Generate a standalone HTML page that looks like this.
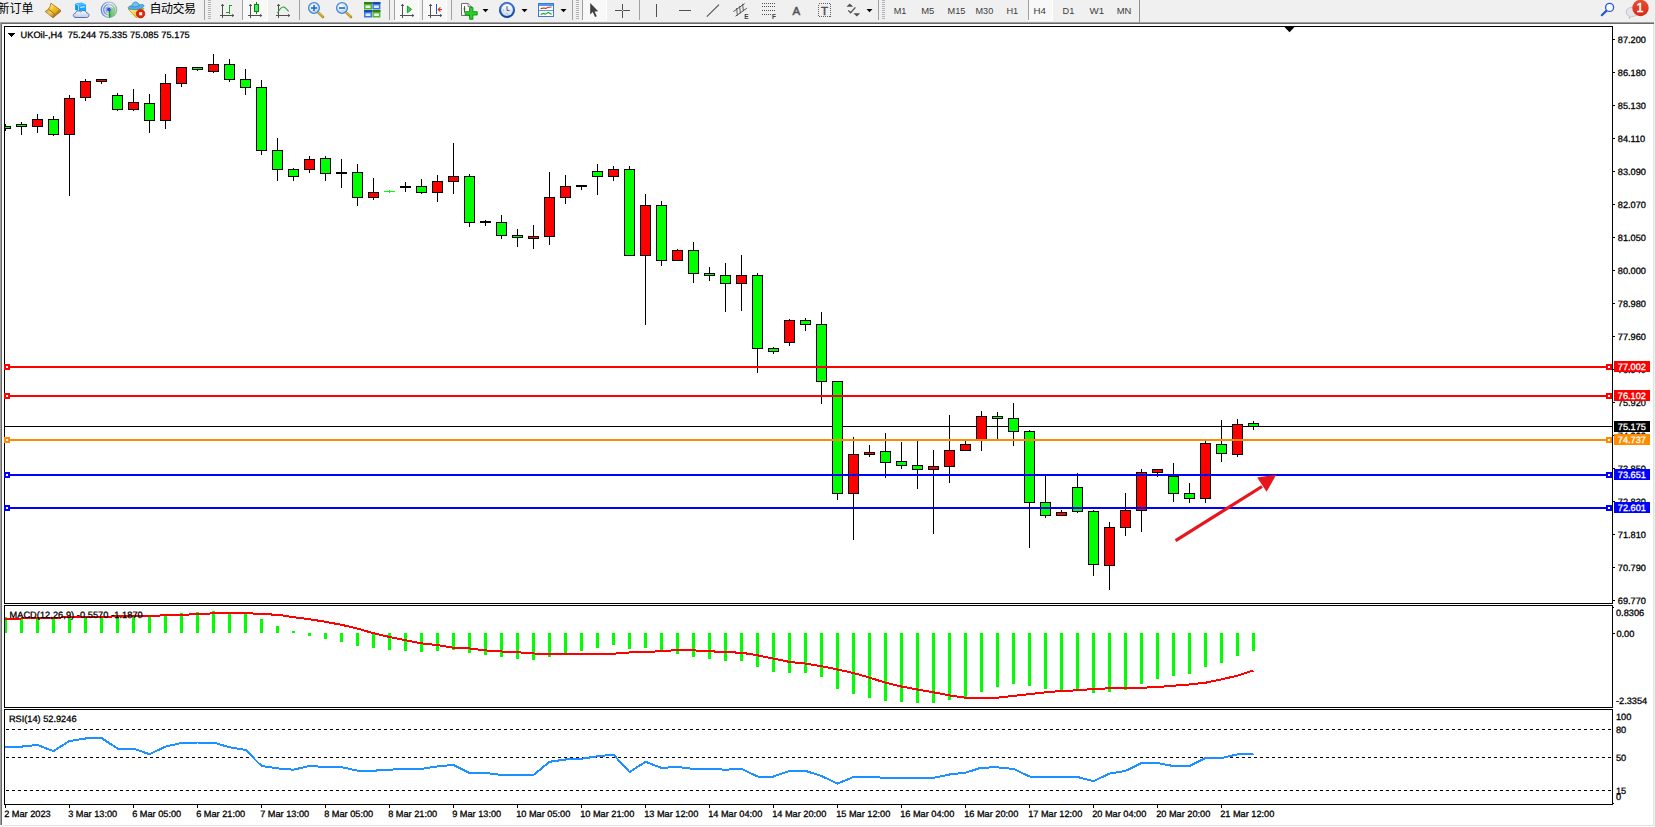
<!DOCTYPE html>
<html lang="zh-CN">
<head>
<meta charset="utf-8">
<title>UKOil-,H4</title>
<style>
html,body{margin:0;padding:0;background:#fff;}
body{width:1655px;height:827px;overflow:hidden;position:relative;font-family:"Liberation Sans","Noto Sans CJK SC",sans-serif;}
#tb{position:absolute;left:0;top:0;width:1655px;height:22px;background:#f0f0f0;}
</style>
</head>
<body>
<div id="tb"><svg width="1655" height="22" viewBox="0 0 1655 22" style="position:absolute;left:0;top:0" font-family="'Liberation Sans','Noto Sans CJK SC',sans-serif">
<defs>
<linearGradient id="gGold" x1="0" y1="0" x2="1" y2="1"><stop offset="0" stop-color="#fff8b0"/><stop offset="0.5" stop-color="#f0c020"/><stop offset="1" stop-color="#d09410"/></linearGradient>
<linearGradient id="gBlue" x1="0" y1="0" x2="0" y2="1"><stop offset="0" stop-color="#58c0ff"/><stop offset="1" stop-color="#0a78e0"/></linearGradient>
<linearGradient id="gCloud" x1="0" y1="0" x2="0" y2="1"><stop offset="0" stop-color="#ffffff"/><stop offset="1" stop-color="#b8c8e8"/></linearGradient>
<radialGradient id="gLens" cx="0.4" cy="0.35" r="0.7"><stop offset="0" stop-color="#ffffff"/><stop offset="1" stop-color="#a8d0f8"/></radialGradient>
<radialGradient id="gClock" cx="0.5" cy="0.5" r="0.5"><stop offset="0.6" stop-color="#ffffff"/><stop offset="0.75" stop-color="#3080e0"/><stop offset="1" stop-color="#1050b0"/></radialGradient>
<linearGradient id="gRed" x1="0" y1="0" x2="0" y2="1"><stop offset="0" stop-color="#e85030"/><stop offset="1" stop-color="#d82818"/></linearGradient>
<linearGradient id="gGreen" x1="0" y1="0" x2="0" y2="1"><stop offset="0" stop-color="#40e040"/><stop offset="1" stop-color="#10a010"/></linearGradient>
<linearGradient id="gYel" x1="0" y1="0" x2="1" y2="1"><stop offset="0" stop-color="#fff8a0"/><stop offset="1" stop-color="#e0a800"/></linearGradient>
<pattern id="grip" x="0" y="0" width="4" height="2" patternUnits="userSpaceOnUse"><rect x="0" y="0" width="4" height="1" fill="#b4b4b4"/></pattern>
<linearGradient id="gFace" x1="0" y1="0" x2="0" y2="1"><stop offset="0" stop-color="#ffffff"/><stop offset="1" stop-color="#c8dcf4"/></linearGradient>
<linearGradient id="gRing" x1="0" y1="0" x2="0" y2="1"><stop offset="0" stop-color="#4890f0"/><stop offset="1" stop-color="#1040a0"/></linearGradient>
<linearGradient id="gSpine" x1="0" y1="0" x2="1" y2="1"><stop offset="0" stop-color="#c89020"/><stop offset="0.45" stop-color="#f4d060"/><stop offset="1" stop-color="#a86408"/></linearGradient>
<linearGradient id="gRingSig" x1="0" y1="0" x2="1" y2="0"><stop offset="0" stop-color="#3060d8"/><stop offset="0.55" stop-color="#a0b8e0"/><stop offset="1" stop-color="#70a890"/></linearGradient>
<linearGradient id="gSweep" x1="0" y1="1" x2="1" y2="0"><stop offset="0" stop-color="#30b030" stop-opacity="0.95"/><stop offset="1" stop-color="#a0d8a0" stop-opacity="0.35"/></linearGradient>
</defs>
<rect x="243" y="0" width="25" height="20" fill="#f8f8f8" shape-rendering="crispEdges"/><rect x="267" y="0" width="1" height="21" fill="#ffffff" shape-rendering="crispEdges"/><rect x="242" y="20" width="26" height="1" fill="#ffffff" shape-rendering="crispEdges"/>
<rect x="395" y="0" width="24" height="20" fill="#f8f8f8" shape-rendering="crispEdges"/><rect x="418" y="0" width="1" height="21" fill="#ffffff" shape-rendering="crispEdges"/><rect x="394" y="20" width="25" height="1" fill="#ffffff" shape-rendering="crispEdges"/>
<rect x="423" y="0" width="24" height="20" fill="#f8f8f8" shape-rendering="crispEdges"/><rect x="446" y="0" width="1" height="21" fill="#ffffff" shape-rendering="crispEdges"/><rect x="422" y="20" width="25" height="1" fill="#ffffff" shape-rendering="crispEdges"/>
<rect x="583" y="0" width="24" height="20" fill="#f8f8f8" shape-rendering="crispEdges"/><rect x="606" y="0" width="1" height="21" fill="#ffffff" shape-rendering="crispEdges"/><rect x="582" y="20" width="25" height="1" fill="#ffffff" shape-rendering="crispEdges"/>
<rect x="1029" y="0" width="24" height="20" fill="#f8f8f8" shape-rendering="crispEdges"/><rect x="1052" y="0" width="1" height="21" fill="#ffffff" shape-rendering="crispEdges"/><rect x="1028" y="20" width="25" height="1" fill="#ffffff" shape-rendering="crispEdges"/>
<text x="-2.6" y="13" font-size="12px" fill="#000">新订单</text>
<text x="149.5" y="13" font-size="12px" fill="#000" textLength="46.5" lengthAdjust="spacing">自动交易</text>
<path d="M45.2,11.5 L48.6,9 L55.2,14.4 L52.9,17.7 Z" fill="url(#gSpine)" stroke="#a06410" stroke-width="0.7" stroke-linejoin="round"/><path d="M55.2,14.4 L59.8,9.6 L61,11.2 L53,17.7 Z" fill="#c8a050" stroke="#a06410" stroke-width="0.7" stroke-linejoin="round"/><path d="M54.6,16 L60.4,10.8" stroke="#8a5a10" stroke-width="0.5"/><path d="M50.9,3.2 L59.8,9.6 L55.2,14.4 L48.6,9 C49.8,7.4 50.6,5.4 50.9,3.2 Z" fill="url(#gGold)" stroke="#a86c10" stroke-width="0.8" stroke-linejoin="round"/>
<path d="M75.1,3.3 L82.1,2.5 L86,4.6 L78.5,5.6 Z" fill="#48b8ff"/><path d="M75.1,3.3 L78.5,5.6 L78.5,11 L75.1,10 Z" fill="#0a96f0"/><path d="M78.5,5.6 L86,4.6 L86,11 L78.5,11 Z" fill="#18a4ff"/><path d="M75.1,3.3 L78.5,5.6 L78.5,11" fill="none" stroke="#e8f6ff" stroke-width="0.6"/><path d="M80.2,7.3 L84.8,6.7" stroke="#f0faff" stroke-width="1.1"/><path d="M76,17.5 C72.6,17.5 72.4,13.6 75.6,13.2 C75.8,10.8 79.2,10.2 80.6,12 C82.2,9.6 86.2,10.4 86.6,13 C89.8,13 89.8,17.5 86.6,17.5 Z" fill="url(#gCloud)" stroke="#4868a8" stroke-width="0.9"/>
<g fill="none" stroke-width="1.3"><circle cx="109" cy="9.8" r="7.7" stroke="url(#gRingSig)" opacity="0.75"/><circle cx="109" cy="9.8" r="5.3" stroke="url(#gRingSig)" opacity="0.75"/><circle cx="109" cy="9.8" r="3" stroke="url(#gRingSig)" opacity="0.6"/></g><path d="M109,9.8 L109,17.6 A7.8,7.8 0 0 0 115.8,6 Z" fill="url(#gSweep)"/><path d="M109.5,10 L109.5,17.6" stroke="#18a020" stroke-width="1.3"/><circle cx="108.9" cy="9.5" r="1.9" fill="#2458d8"/>
<path d="M128.3,9.2 L144,8.6 L136.3,17.8 Z" fill="url(#gYel)" stroke="#c89408" stroke-width="0.8" stroke-linejoin="round"/><path d="M128.2,7.6 C129.6,4.8 133,6.4 136,5.6 C139,5 143,3.4 143.9,5.4 C144.4,7.4 140,9.4 136,9.5 C132,9.6 127.6,9.4 128.2,7.6 Z" fill="#58b0e8" stroke="#2484b8" stroke-width="0.7"/><path d="M131.9,6.6 C131.6,0.8 138.8,0.6 139.2,5.6 C137,7 134,7.2 131.9,6.6 Z" fill="#74c0f0" stroke="#2484b8" stroke-width="0.7"/><circle cx="140.6" cy="13.7" r="4.2" fill="#e42408" stroke="#b41404" stroke-width="0.7"/><rect x="139.1" y="12.2" width="3.1" height="3.1" fill="#fff"/>
<rect x="204" y="0" width="1" height="20" fill="#a0a0a0" shape-rendering="crispEdges"/>
<rect x="208" y="0" width="3" height="20" fill="url(#grip)" shape-rendering="crispEdges"/>
<rect x="242" y="0" width="1" height="20" fill="#a0a0a0" shape-rendering="crispEdges"/>
<rect x="299" y="0" width="1" height="20" fill="#a0a0a0" shape-rendering="crispEdges"/>
<rect x="389" y="0" width="1" height="20" fill="#a0a0a0" shape-rendering="crispEdges"/>
<rect x="394" y="0" width="1" height="20" fill="#a0a0a0" shape-rendering="crispEdges"/>
<rect x="422" y="0" width="1" height="20" fill="#a0a0a0" shape-rendering="crispEdges"/>
<rect x="451" y="0" width="1" height="20" fill="#a0a0a0" shape-rendering="crispEdges"/>
<rect x="572" y="0" width="1" height="20" fill="#a0a0a0" shape-rendering="crispEdges"/>
<rect x="576" y="0" width="3" height="20" fill="url(#grip)" shape-rendering="crispEdges"/>
<rect x="582" y="0" width="1" height="20" fill="#a0a0a0" shape-rendering="crispEdges"/>
<rect x="639" y="0" width="1" height="20" fill="#a0a0a0" shape-rendering="crispEdges"/>
<rect x="878" y="0" width="1" height="20" fill="#a0a0a0" shape-rendering="crispEdges"/>
<rect x="882" y="0" width="3" height="20" fill="url(#grip)" shape-rendering="crispEdges"/>
<rect x="1028" y="0" width="1" height="20" fill="#a0a0a0" shape-rendering="crispEdges"/>
<rect x="1139" y="0" width="1" height="22" fill="#909090" shape-rendering="crispEdges"/>
<g fill="none" stroke="#505050" stroke-width="1" shape-rendering="crispEdges"><line x1="222.5" y1="4" x2="222.5" y2="18"/><line x1="220" y1="15.5" x2="234" y2="15.5"/></g><path d="M221.2,6 L222.5,4.3 L223.8,6 M232.2,14.2 L233.8,15.5 L232.2,16.8" fill="none" stroke="#505050" stroke-width="1"/>
<path d="M229.5,5 L229.5,13.5 M226,12.5 L229.5,12.5 M229.5,5.5 L231.5,5.5" fill="none" stroke="#18a028" stroke-width="1" shape-rendering="crispEdges"/>
<g fill="none" stroke="#505050" stroke-width="1" shape-rendering="crispEdges"><line x1="250.5" y1="4" x2="250.5" y2="18"/><line x1="248" y1="15.5" x2="262" y2="15.5"/></g><path d="M249.2,6 L250.5,4.3 L251.8,6 M260.2,14.2 L261.8,15.5 L260.2,16.8" fill="none" stroke="#505050" stroke-width="1"/>
<path d="M256.5,2 L256.5,14" stroke="#108018" stroke-width="1" shape-rendering="crispEdges"/><rect x="254.5" y="4.5" width="4" height="7" fill="#48e858" stroke="#108018" stroke-width="1" shape-rendering="crispEdges"/>
<g fill="none" stroke="#505050" stroke-width="1" shape-rendering="crispEdges"><line x1="278.5" y1="4" x2="278.5" y2="18"/><line x1="276" y1="15.5" x2="290" y2="15.5"/></g><path d="M277.2,6 L278.5,4.3 L279.8,6 M288.2,14.2 L289.8,15.5 L288.2,16.8" fill="none" stroke="#505050" stroke-width="1"/>
<path d="M277.5,13.2 C280,8 282.6,6.4 284.4,7.2 C286,8 287.4,10 288.6,11.4" fill="none" stroke="#18a028" stroke-width="1.1"/>
<path d="M317.4,11.6 L323,17" stroke="#b89020" stroke-width="2.6" stroke-linecap="round"/><path d="M317.8,11.6 L322.6,16.2" stroke="#f0d060" stroke-width="1" stroke-linecap="round"/><circle cx="314" cy="8" r="5.4" fill="url(#gLens)" stroke="#4888d0" stroke-width="1.3"/><path d="M311,8 L317,8" stroke="#2868c0" stroke-width="1.6"/><path d="M314,5 L314,11" stroke="#2868c0" stroke-width="1.6"/>
<path d="M345.4,11.6 L351,17" stroke="#b89020" stroke-width="2.6" stroke-linecap="round"/><path d="M345.8,11.6 L350.6,16.2" stroke="#f0d060" stroke-width="1" stroke-linecap="round"/><circle cx="342" cy="8" r="5.4" fill="url(#gLens)" stroke="#4888d0" stroke-width="1.3"/><path d="M339,8 L345,8" stroke="#2868c0" stroke-width="1.6"/>
<rect x="364" y="2" width="8" height="7.5" fill="#58b030"/><rect x="364" y="2" width="8" height="2" fill="#308018"/><rect x="365.5" y="5.4" width="5" height="2.6" fill="#f0f8ff" opacity="0.9"/>
<rect x="372.4" y="2" width="8" height="7.5" fill="#3878e0"/><rect x="372.4" y="2" width="8" height="2" fill="#1848b0"/><rect x="373.9" y="5.4" width="5" height="2.6" fill="#f0f8ff" opacity="0.9"/>
<rect x="364" y="10" width="8" height="7.5" fill="#3878e0"/><rect x="364" y="10" width="8" height="2" fill="#1848b0"/><rect x="365.5" y="13.4" width="5" height="2.6" fill="#f0f8ff" opacity="0.9"/>
<rect x="372.4" y="10" width="8" height="7.5" fill="#58b030"/><rect x="372.4" y="10" width="8" height="2" fill="#308018"/><rect x="373.9" y="13.4" width="5" height="2.6" fill="#f0f8ff" opacity="0.9"/>
<g fill="none" stroke="#505050" stroke-width="1" shape-rendering="crispEdges"><line x1="402.5" y1="4" x2="402.5" y2="18"/><line x1="400" y1="15.5" x2="414" y2="15.5"/></g><path d="M401.2,6 L402.5,4.3 L403.8,6 M412.2,14.2 L413.8,15.5 L412.2,16.8" fill="none" stroke="#505050" stroke-width="1"/>
<path d="M407.4,6 L411.6,9.4 L407.4,12.8 Z" fill="#38d048" stroke="#18a028" stroke-width="1"/>
<g fill="none" stroke="#505050" stroke-width="1" shape-rendering="crispEdges"><line x1="430.5" y1="4" x2="430.5" y2="18"/><line x1="428" y1="15.5" x2="442" y2="15.5"/></g><path d="M429.2,6 L430.5,4.3 L431.8,6 M440.2,14.2 L441.8,15.5 L440.2,16.8" fill="none" stroke="#505050" stroke-width="1"/>
<path d="M436.5,4 L436.5,13.5" stroke="#2060c0" stroke-width="1" shape-rendering="crispEdges"/><path d="M438,9.5 L442,9.5 M440.4,7.4 L438.2,9.5 L440.4,11.6" fill="none" stroke="#d83010" stroke-width="1.1"/>
<path d="M461.5,3.5 L468,3.5 L471.5,6.6 L471.5,15.5 L461.5,15.5 Z" fill="#fbfbfb" stroke="#707070" stroke-width="1"/><path d="M468,3.5 L468,6.6 L471.5,6.6" fill="#e0e0e0" stroke="#707070" stroke-width="0.8"/><path d="M464.5,6 L464.5,12.5 M463.5,9 L465.5,9" stroke="#404040" stroke-width="0.9"/><path d="M469.6,7.4 L472.9,7.4 L472.9,11.7 L477.2,11.7 L477.2,15 L472.9,15 L472.9,19.3 L469.6,19.3 L469.6,15 L465.2,15 L465.2,11.7 L469.6,11.7 Z" fill="#28d028" stroke="#0c900c" stroke-width="0.9"/>
<polygon points="482.5,9 488.5,9 485.5,12.2" fill="#000"/>
<circle cx="507" cy="10" r="7.8" fill="url(#gRing)"/><circle cx="507" cy="10" r="7.6" fill="none" stroke="#103890" stroke-width="0.6"/><circle cx="507" cy="10" r="5.9" fill="url(#gFace)"/><path d="M507,6.2 L507,10.4 L509.6,10.4" fill="none" stroke="#505860" stroke-width="1"/><path d="M503,10 L503.8,10 M507,13.4 L507,14.2" stroke="#808080" stroke-width="0.8"/>
<polygon points="521.5,9 527.5,9 524.5,12.2" fill="#000"/>
<rect x="538.5" y="3.5" width="15" height="13" fill="#fdfdfd" stroke="#3878d8" stroke-width="1" shape-rendering="crispEdges"/><rect x="539" y="4" width="14" height="2" fill="#5898f0" shape-rendering="crispEdges"/><rect x="539" y="10" width="14" height="1" fill="#5898f0" shape-rendering="crispEdges"/><path d="M540.6,8.6 L543.4,8 L545.6,8.4 L548.4,7.2 L551.6,7" fill="none" stroke="#b83818" stroke-width="1.1"/><path d="M540.6,14.4 L543.4,13.4 L545.4,14.2 L548.2,12.4 L551.6,14.2" fill="none" stroke="#18a028" stroke-width="1.1"/>
<polygon points="560.5,9 566.5,9 563.5,12.2" fill="#000"/>
<path d="M590.2,3 L590.2,14.4 L592.8,12 L595,17 L596.8,16.2 L594.6,11.4 L598.2,11.2 Z" fill="#404040"/>
<path d="M622.5,3.5 L622.5,17.5 M615,10.5 L630,10.5" stroke="#505050" stroke-width="1" shape-rendering="crispEdges"/><rect x="622" y="10" width="1" height="1" fill="#f0f0f0" shape-rendering="crispEdges"/>
<path d="M656.5,4 L656.5,17 M679,10.5 L691,10.5" stroke="#505050" stroke-width="1" shape-rendering="crispEdges"/>
<path d="M706.8,16.6 L719,4.6" stroke="#505050" stroke-width="1.1"/>
<g stroke="#505050" stroke-width="1" fill="none"><path d="M733.4,11.6 L744.6,3.6 M735.6,16.2 L746.8,8.2"/><path d="M736.6,8 L737.4,15.6 M739.6,6.2 L740.4,13.4 M742.6,3.8 L743.4,11.2" stroke-width="0.9"/></g><text x="744.2" y="18.6" font-size="6.5px" font-weight="bold" fill="#404040">E</text>
<g stroke="#505050" stroke-width="1" stroke-dasharray="1 1" shape-rendering="crispEdges"><path d="M762,3.5 L776,3.5 M762,6.5 L776,6.5 M762,10.5 L776,10.5 M762,14.5 L771,14.5"/></g><text x="772" y="18.6" font-size="6.5px" font-weight="bold" fill="#404040">F</text>
<text x="792.6" y="14.6" font-size="11.5px" fill="#505050" stroke="#505050" stroke-width="0.5">A</text>
<rect x="818.5" y="3.5" width="12" height="13" fill="none" stroke="#606060" stroke-width="1" stroke-dasharray="1 1" shape-rendering="crispEdges"/><text x="821" y="14.6" font-size="11.5px" fill="#505050" stroke="#505050" stroke-width="0.5">T</text>
<path d="M846.4,6.8 L849.8,3.4 L853.2,6.8 Z M853.4,13.2 L856.8,16.6 L860.2,13.2 Z" fill="#505050"/><path d="M848.2,10.4 L850.6,12.8 L855.4,7.4" fill="none" stroke="#505050" stroke-width="1.3"/>
<polygon points="866.5,9 872.5,9 869.5,12.2" fill="#000"/>
<text x="893.7" y="13.7" font-size="9.2px" fill="#3c3c3c" textLength="12.7" lengthAdjust="spacingAndGlyphs">M1</text>
<text x="921.2" y="13.7" font-size="9.2px" fill="#3c3c3c" textLength="13.1" lengthAdjust="spacingAndGlyphs">M5</text>
<text x="947.5" y="13.7" font-size="9.2px" fill="#3c3c3c" textLength="17.9" lengthAdjust="spacingAndGlyphs">M15</text>
<text x="975.5" y="13.7" font-size="9.2px" fill="#3c3c3c" textLength="17.7" lengthAdjust="spacingAndGlyphs">M30</text>
<text x="1006.4" y="13.7" font-size="9.2px" fill="#3c3c3c" textLength="11.8" lengthAdjust="spacingAndGlyphs">H1</text>
<text x="1033.5" y="13.7" font-size="9.2px" fill="#3c3c3c" textLength="12.4" lengthAdjust="spacingAndGlyphs">H4</text>
<text x="1062.5" y="13.7" font-size="9.2px" fill="#3c3c3c" textLength="11.8" lengthAdjust="spacingAndGlyphs">D1</text>
<text x="1089.6" y="13.7" font-size="9.2px" fill="#3c3c3c" textLength="14.6" lengthAdjust="spacingAndGlyphs">W1</text>
<text x="1116.8" y="13.7" font-size="9.2px" fill="#3c3c3c" textLength="14.6" lengthAdjust="spacingAndGlyphs">MN</text>
<path d="M1606.6,10.6 L1601.8,15.2" stroke="#2858d0" stroke-width="2.2" stroke-linecap="round"/><circle cx="1609.6" cy="7.4" r="4" fill="#fbfbff" stroke="#2858d0" stroke-width="1.3"/>
<path d="M1627.4,9 C1631,6 1638,7 1638.6,11.4 C1638.8,15.4 1634,16.6 1631.6,16.4 L1629.2,18.6 L1629.4,16 C1626,15 1625.4,11.4 1627.4,9 Z" fill="#e4e4ea" stroke="#b8b8c0" stroke-width="0.8"/>
<circle cx="1640.5" cy="8" r="8.2" fill="url(#gRed)"/><text x="1636.6" y="12.4" font-size="12.5px" fill="#fff" stroke="#fff" stroke-width="0.5">1</text>
</svg></div>
<svg width="1655" height="827" viewBox="0 0 1655 827" style="position:absolute;left:0;top:0" shape-rendering="crispEdges" font-family="'Liberation Sans', sans-serif" font-size="9.2px">
<rect x="0" y="22" width="1655" height="1" fill="#a0a0a0"/>
<rect x="0" y="23" width="1655" height="1" fill="#696969"/>
<rect x="0" y="22" width="1" height="803" fill="#a0a0a0"/>
<rect x="1" y="23" width="1" height="802" fill="#696969"/>
<rect x="1653" y="24" width="1" height="802" fill="#e3e3e3"/>
<rect x="1654" y="22" width="1" height="805" fill="#f0f0f0"/>
<rect x="2" y="825" width="1652" height="1" fill="#e3e3e3"/>
<rect x="0" y="826" width="1655" height="1" fill="#fafafa"/>
<defs><clipPath id="cm"><rect x="5" y="27" width="1607" height="576"/></clipPath><clipPath id="cd"><rect x="5" y="606" width="1607" height="101"/></clipPath><clipPath id="cr"><rect x="5" y="710" width="1607" height="94"/></clipPath></defs>
<g clip-path="url(#cm)">
<rect x="5" y="426" width="1607" height="1" fill="#000000"/>
<rect x="5" y="124" width="1" height="7" fill="#000000"/>
<rect x="0" y="126" width="11" height="3" fill="#000000"/>
<rect x="1" y="127" width="9" height="1" fill="#00ff00"/>
<rect x="21" y="122" width="1" height="13" fill="#000000"/>
<rect x="16" y="124" width="11" height="3" fill="#000000"/>
<rect x="17" y="125" width="9" height="1" fill="#00ff00"/>
<rect x="37" y="114" width="1" height="19" fill="#000000"/>
<rect x="32" y="119" width="11" height="8" fill="#000000"/>
<rect x="33" y="120" width="9" height="6" fill="#ff0000"/>
<rect x="53" y="116" width="1" height="20" fill="#000000"/>
<rect x="48" y="119" width="11" height="16" fill="#000000"/>
<rect x="49" y="120" width="9" height="14" fill="#00ff00"/>
<rect x="69" y="95" width="1" height="101" fill="#000000"/>
<rect x="64" y="98" width="11" height="37" fill="#000000"/>
<rect x="65" y="99" width="9" height="35" fill="#ff0000"/>
<rect x="85" y="79" width="1" height="22" fill="#000000"/>
<rect x="80" y="81" width="11" height="17" fill="#000000"/>
<rect x="81" y="82" width="9" height="15" fill="#ff0000"/>
<rect x="101" y="79" width="1" height="5" fill="#000000"/>
<rect x="96" y="79" width="11" height="3" fill="#000000"/>
<rect x="97" y="80" width="9" height="1" fill="#ff0000"/>
<rect x="117" y="93" width="1" height="18" fill="#000000"/>
<rect x="112" y="95" width="11" height="15" fill="#000000"/>
<rect x="113" y="96" width="9" height="13" fill="#00ff00"/>
<rect x="133" y="89" width="1" height="22" fill="#000000"/>
<rect x="128" y="102" width="11" height="8" fill="#000000"/>
<rect x="129" y="103" width="9" height="6" fill="#ff0000"/>
<rect x="149" y="94" width="1" height="39" fill="#000000"/>
<rect x="144" y="103" width="11" height="18" fill="#000000"/>
<rect x="145" y="104" width="9" height="16" fill="#00ff00"/>
<rect x="165" y="74" width="1" height="55" fill="#000000"/>
<rect x="160" y="83" width="11" height="38" fill="#000000"/>
<rect x="161" y="84" width="9" height="36" fill="#ff0000"/>
<rect x="181" y="67" width="1" height="20" fill="#000000"/>
<rect x="176" y="67" width="11" height="17" fill="#000000"/>
<rect x="177" y="68" width="9" height="15" fill="#ff0000"/>
<rect x="197" y="67" width="1" height="4" fill="#000000"/>
<rect x="192" y="67" width="11" height="3" fill="#000000"/>
<rect x="193" y="68" width="9" height="1" fill="#00ff00"/>
<rect x="213" y="54" width="1" height="19" fill="#000000"/>
<rect x="208" y="64" width="11" height="8" fill="#000000"/>
<rect x="209" y="65" width="9" height="6" fill="#ff0000"/>
<rect x="229" y="59" width="1" height="23" fill="#000000"/>
<rect x="224" y="64" width="11" height="16" fill="#000000"/>
<rect x="225" y="65" width="9" height="14" fill="#00ff00"/>
<rect x="245" y="69" width="1" height="26" fill="#000000"/>
<rect x="240" y="79" width="11" height="9" fill="#000000"/>
<rect x="241" y="80" width="9" height="7" fill="#00ff00"/>
<rect x="261" y="80" width="1" height="75" fill="#000000"/>
<rect x="256" y="87" width="11" height="64" fill="#000000"/>
<rect x="257" y="88" width="9" height="62" fill="#00ff00"/>
<rect x="277" y="138" width="1" height="43" fill="#000000"/>
<rect x="272" y="150" width="11" height="20" fill="#000000"/>
<rect x="273" y="151" width="9" height="18" fill="#00ff00"/>
<rect x="293" y="168" width="1" height="13" fill="#000000"/>
<rect x="288" y="169" width="11" height="8" fill="#000000"/>
<rect x="289" y="170" width="9" height="6" fill="#00ff00"/>
<rect x="309" y="156" width="1" height="17" fill="#000000"/>
<rect x="304" y="159" width="11" height="11" fill="#000000"/>
<rect x="305" y="160" width="9" height="9" fill="#ff0000"/>
<rect x="325" y="156" width="1" height="25" fill="#000000"/>
<rect x="320" y="158" width="11" height="16" fill="#000000"/>
<rect x="321" y="159" width="9" height="14" fill="#00ff00"/>
<rect x="341" y="159" width="1" height="29" fill="#000000"/>
<rect x="336" y="172" width="11" height="2" fill="#000000"/>
<rect x="357" y="164" width="1" height="42" fill="#000000"/>
<rect x="352" y="172" width="11" height="26" fill="#000000"/>
<rect x="353" y="173" width="9" height="24" fill="#00ff00"/>
<rect x="373" y="178" width="1" height="22" fill="#000000"/>
<rect x="368" y="192" width="11" height="6" fill="#000000"/>
<rect x="369" y="193" width="9" height="4" fill="#ff0000"/>
<rect x="384" y="191" width="11" height="1" fill="#00ff00"/>
<rect x="389" y="190" width="1" height="3" fill="#00ff00"/>
<rect x="405" y="182" width="1" height="10" fill="#000000"/>
<rect x="400" y="186" width="11" height="2" fill="#000000"/>
<rect x="421" y="179" width="1" height="15" fill="#000000"/>
<rect x="416" y="186" width="11" height="7" fill="#000000"/>
<rect x="417" y="187" width="9" height="5" fill="#00ff00"/>
<rect x="437" y="175" width="1" height="27" fill="#000000"/>
<rect x="432" y="181" width="11" height="12" fill="#000000"/>
<rect x="433" y="182" width="9" height="10" fill="#ff0000"/>
<rect x="453" y="143" width="1" height="51" fill="#000000"/>
<rect x="448" y="176" width="11" height="6" fill="#000000"/>
<rect x="449" y="177" width="9" height="4" fill="#ff0000"/>
<rect x="469" y="174" width="1" height="53" fill="#000000"/>
<rect x="464" y="176" width="11" height="47" fill="#000000"/>
<rect x="465" y="177" width="9" height="45" fill="#00ff00"/>
<rect x="485" y="220" width="1" height="6" fill="#000000"/>
<rect x="480" y="221" width="11" height="2" fill="#000000"/>
<rect x="501" y="215" width="1" height="24" fill="#000000"/>
<rect x="496" y="222" width="11" height="14" fill="#000000"/>
<rect x="497" y="223" width="9" height="12" fill="#00ff00"/>
<rect x="517" y="229" width="1" height="18" fill="#000000"/>
<rect x="512" y="235" width="11" height="3" fill="#000000"/>
<rect x="513" y="236" width="9" height="1" fill="#00ff00"/>
<rect x="533" y="225" width="1" height="24" fill="#000000"/>
<rect x="528" y="236" width="11" height="3" fill="#000000"/>
<rect x="529" y="237" width="9" height="1" fill="#ff0000"/>
<rect x="549" y="172" width="1" height="73" fill="#000000"/>
<rect x="544" y="197" width="11" height="40" fill="#000000"/>
<rect x="545" y="198" width="9" height="38" fill="#ff0000"/>
<rect x="565" y="175" width="1" height="29" fill="#000000"/>
<rect x="560" y="186" width="11" height="12" fill="#000000"/>
<rect x="561" y="187" width="9" height="10" fill="#ff0000"/>
<rect x="581" y="185" width="1" height="5" fill="#000000"/>
<rect x="576" y="185" width="11" height="2" fill="#000000"/>
<rect x="597" y="164" width="1" height="31" fill="#000000"/>
<rect x="592" y="171" width="11" height="6" fill="#000000"/>
<rect x="593" y="172" width="9" height="4" fill="#00ff00"/>
<rect x="613" y="166" width="1" height="15" fill="#000000"/>
<rect x="608" y="169" width="11" height="8" fill="#000000"/>
<rect x="609" y="170" width="9" height="6" fill="#ff0000"/>
<rect x="629" y="166" width="1" height="90" fill="#000000"/>
<rect x="624" y="169" width="11" height="87" fill="#000000"/>
<rect x="625" y="170" width="9" height="85" fill="#00ff00"/>
<rect x="645" y="194" width="1" height="131" fill="#000000"/>
<rect x="640" y="205" width="11" height="51" fill="#000000"/>
<rect x="641" y="206" width="9" height="49" fill="#ff0000"/>
<rect x="661" y="201" width="1" height="65" fill="#000000"/>
<rect x="656" y="205" width="11" height="56" fill="#000000"/>
<rect x="657" y="206" width="9" height="54" fill="#00ff00"/>
<rect x="677" y="249" width="1" height="12" fill="#000000"/>
<rect x="672" y="250" width="11" height="11" fill="#000000"/>
<rect x="673" y="251" width="9" height="9" fill="#ff0000"/>
<rect x="693" y="242" width="1" height="41" fill="#000000"/>
<rect x="688" y="250" width="11" height="24" fill="#000000"/>
<rect x="689" y="251" width="9" height="22" fill="#00ff00"/>
<rect x="709" y="267" width="1" height="14" fill="#000000"/>
<rect x="704" y="273" width="11" height="3" fill="#000000"/>
<rect x="705" y="274" width="9" height="1" fill="#00ff00"/>
<rect x="725" y="263" width="1" height="49" fill="#000000"/>
<rect x="720" y="275" width="11" height="9" fill="#000000"/>
<rect x="721" y="276" width="9" height="7" fill="#00ff00"/>
<rect x="741" y="255" width="1" height="56" fill="#000000"/>
<rect x="736" y="275" width="11" height="9" fill="#000000"/>
<rect x="737" y="276" width="9" height="7" fill="#ff0000"/>
<rect x="757" y="273" width="1" height="100" fill="#000000"/>
<rect x="752" y="275" width="11" height="74" fill="#000000"/>
<rect x="753" y="276" width="9" height="72" fill="#00ff00"/>
<rect x="773" y="347" width="1" height="7" fill="#000000"/>
<rect x="768" y="348" width="11" height="4" fill="#000000"/>
<rect x="769" y="349" width="9" height="2" fill="#00ff00"/>
<rect x="789" y="319" width="1" height="27" fill="#000000"/>
<rect x="784" y="320" width="11" height="23" fill="#000000"/>
<rect x="785" y="321" width="9" height="21" fill="#ff0000"/>
<rect x="805" y="318" width="1" height="13" fill="#000000"/>
<rect x="800" y="320" width="11" height="5" fill="#000000"/>
<rect x="801" y="321" width="9" height="3" fill="#00ff00"/>
<rect x="821" y="312" width="1" height="92" fill="#000000"/>
<rect x="816" y="324" width="11" height="58" fill="#000000"/>
<rect x="817" y="325" width="9" height="56" fill="#00ff00"/>
<rect x="837" y="381" width="1" height="119" fill="#000000"/>
<rect x="832" y="381" width="11" height="113" fill="#000000"/>
<rect x="833" y="382" width="9" height="111" fill="#00ff00"/>
<rect x="853" y="437" width="1" height="103" fill="#000000"/>
<rect x="848" y="454" width="11" height="40" fill="#000000"/>
<rect x="849" y="455" width="9" height="38" fill="#ff0000"/>
<rect x="869" y="445" width="1" height="12" fill="#000000"/>
<rect x="864" y="452" width="11" height="3" fill="#000000"/>
<rect x="865" y="453" width="9" height="1" fill="#ff0000"/>
<rect x="885" y="433" width="1" height="45" fill="#000000"/>
<rect x="880" y="451" width="11" height="12" fill="#000000"/>
<rect x="881" y="452" width="9" height="10" fill="#00ff00"/>
<rect x="901" y="442" width="1" height="27" fill="#000000"/>
<rect x="896" y="461" width="11" height="5" fill="#000000"/>
<rect x="897" y="462" width="9" height="3" fill="#00ff00"/>
<rect x="917" y="441" width="1" height="48" fill="#000000"/>
<rect x="912" y="465" width="11" height="5" fill="#000000"/>
<rect x="913" y="466" width="9" height="3" fill="#00ff00"/>
<rect x="933" y="450" width="1" height="84" fill="#000000"/>
<rect x="928" y="466" width="11" height="4" fill="#000000"/>
<rect x="929" y="467" width="9" height="2" fill="#ff0000"/>
<rect x="949" y="415" width="1" height="68" fill="#000000"/>
<rect x="944" y="450" width="11" height="17" fill="#000000"/>
<rect x="945" y="451" width="9" height="15" fill="#ff0000"/>
<rect x="965" y="441" width="1" height="10" fill="#000000"/>
<rect x="960" y="444" width="11" height="7" fill="#000000"/>
<rect x="961" y="445" width="9" height="5" fill="#ff0000"/>
<rect x="981" y="411" width="1" height="40" fill="#000000"/>
<rect x="976" y="416" width="11" height="25" fill="#000000"/>
<rect x="977" y="417" width="9" height="23" fill="#ff0000"/>
<rect x="997" y="412" width="1" height="27" fill="#000000"/>
<rect x="992" y="416" width="11" height="3" fill="#000000"/>
<rect x="993" y="417" width="9" height="1" fill="#00ff00"/>
<rect x="1013" y="403" width="1" height="43" fill="#000000"/>
<rect x="1008" y="418" width="11" height="14" fill="#000000"/>
<rect x="1009" y="419" width="9" height="12" fill="#00ff00"/>
<rect x="1029" y="430" width="1" height="118" fill="#000000"/>
<rect x="1024" y="431" width="11" height="72" fill="#000000"/>
<rect x="1025" y="432" width="9" height="70" fill="#00ff00"/>
<rect x="1045" y="476" width="1" height="42" fill="#000000"/>
<rect x="1040" y="502" width="11" height="14" fill="#000000"/>
<rect x="1041" y="503" width="9" height="12" fill="#00ff00"/>
<rect x="1061" y="510" width="1" height="6" fill="#000000"/>
<rect x="1056" y="512" width="11" height="4" fill="#000000"/>
<rect x="1057" y="513" width="9" height="2" fill="#ff0000"/>
<rect x="1077" y="473" width="1" height="40" fill="#000000"/>
<rect x="1072" y="487" width="11" height="25" fill="#000000"/>
<rect x="1073" y="488" width="9" height="23" fill="#00ff00"/>
<rect x="1093" y="510" width="1" height="66" fill="#000000"/>
<rect x="1088" y="511" width="11" height="54" fill="#000000"/>
<rect x="1089" y="512" width="9" height="52" fill="#00ff00"/>
<rect x="1109" y="522" width="1" height="68" fill="#000000"/>
<rect x="1104" y="527" width="11" height="39" fill="#000000"/>
<rect x="1105" y="528" width="9" height="37" fill="#ff0000"/>
<rect x="1125" y="493" width="1" height="43" fill="#000000"/>
<rect x="1120" y="510" width="11" height="18" fill="#000000"/>
<rect x="1121" y="511" width="9" height="16" fill="#ff0000"/>
<rect x="1141" y="469" width="1" height="63" fill="#000000"/>
<rect x="1136" y="472" width="11" height="39" fill="#000000"/>
<rect x="1137" y="473" width="9" height="37" fill="#ff0000"/>
<rect x="1157" y="469" width="1" height="8" fill="#000000"/>
<rect x="1152" y="469" width="11" height="4" fill="#000000"/>
<rect x="1153" y="470" width="9" height="2" fill="#ff0000"/>
<rect x="1173" y="463" width="1" height="39" fill="#000000"/>
<rect x="1168" y="476" width="11" height="18" fill="#000000"/>
<rect x="1169" y="477" width="9" height="16" fill="#00ff00"/>
<rect x="1189" y="483" width="1" height="20" fill="#000000"/>
<rect x="1184" y="493" width="11" height="6" fill="#000000"/>
<rect x="1185" y="494" width="9" height="4" fill="#00ff00"/>
<rect x="1205" y="441" width="1" height="62" fill="#000000"/>
<rect x="1200" y="443" width="11" height="56" fill="#000000"/>
<rect x="1201" y="444" width="9" height="54" fill="#ff0000"/>
<rect x="1221" y="420" width="1" height="42" fill="#000000"/>
<rect x="1216" y="444" width="11" height="10" fill="#000000"/>
<rect x="1217" y="445" width="9" height="8" fill="#00ff00"/>
<rect x="1237" y="419" width="1" height="38" fill="#000000"/>
<rect x="1232" y="424" width="11" height="31" fill="#000000"/>
<rect x="1233" y="425" width="9" height="29" fill="#ff0000"/>
<rect x="1253" y="421" width="1" height="9" fill="#000000"/>
<rect x="1248" y="423" width="11" height="4" fill="#000000"/>
<rect x="1249" y="424" width="9" height="2" fill="#00ff00"/>
</g>
<rect x="5" y="366" width="1607" height="2" fill="#ff0000"/>
<rect x="5" y="395" width="1607" height="2" fill="#ff0000"/>
<rect x="5" y="439" width="1607" height="2" fill="#ff8c00"/>
<rect x="5" y="474" width="1607" height="2" fill="#0000ff"/>
<rect x="5" y="507" width="1607" height="2" fill="#0000ff"/>
<g shape-rendering="geometricPrecision"><line x1="1175.6" y1="540.6" x2="1262" y2="486.5" stroke="#e8141e" stroke-width="3.2"/><polygon points="1276.2,474.8 1257.2,477.4 1266.6,491.8" fill="#e8141e"/></g>
<polygon points="1284.5,27 1294.5,27 1289.5,32.3" fill="#000" shape-rendering="geometricPrecision"/>
<g clip-path="url(#cd)">
<rect x="4" y="617" width="3" height="16" fill="#00ff00"/>
<rect x="20" y="618" width="3" height="15" fill="#00ff00"/>
<rect x="36" y="618" width="3" height="15" fill="#00ff00"/>
<rect x="52" y="618" width="3" height="15" fill="#00ff00"/>
<rect x="68" y="617" width="3" height="16" fill="#00ff00"/>
<rect x="84" y="617" width="3" height="16" fill="#00ff00"/>
<rect x="100" y="616" width="3" height="17" fill="#00ff00"/>
<rect x="116" y="616" width="3" height="17" fill="#00ff00"/>
<rect x="132" y="616" width="3" height="17" fill="#00ff00"/>
<rect x="148" y="617" width="3" height="16" fill="#00ff00"/>
<rect x="164" y="615" width="3" height="18" fill="#00ff00"/>
<rect x="180" y="613" width="3" height="20" fill="#00ff00"/>
<rect x="196" y="612" width="3" height="21" fill="#00ff00"/>
<rect x="212" y="611" width="3" height="22" fill="#00ff00"/>
<rect x="228" y="612" width="3" height="21" fill="#00ff00"/>
<rect x="244" y="614" width="3" height="19" fill="#00ff00"/>
<rect x="260" y="619" width="3" height="14" fill="#00ff00"/>
<rect x="276" y="626" width="3" height="7" fill="#00ff00"/>
<rect x="292" y="631" width="3" height="2" fill="#00ff00"/>
<rect x="308" y="633" width="3" height="3" fill="#00ff00"/>
<rect x="324" y="633" width="3" height="6" fill="#00ff00"/>
<rect x="340" y="633" width="3" height="9" fill="#00ff00"/>
<rect x="356" y="633" width="3" height="13" fill="#00ff00"/>
<rect x="372" y="633" width="3" height="15" fill="#00ff00"/>
<rect x="388" y="633" width="3" height="17" fill="#00ff00"/>
<rect x="404" y="633" width="3" height="18" fill="#00ff00"/>
<rect x="420" y="633" width="3" height="19" fill="#00ff00"/>
<rect x="436" y="633" width="3" height="18" fill="#00ff00"/>
<rect x="452" y="633" width="3" height="17" fill="#00ff00"/>
<rect x="468" y="633" width="3" height="20" fill="#00ff00"/>
<rect x="484" y="633" width="3" height="22" fill="#00ff00"/>
<rect x="500" y="633" width="3" height="24" fill="#00ff00"/>
<rect x="516" y="633" width="3" height="26" fill="#00ff00"/>
<rect x="532" y="633" width="3" height="27" fill="#00ff00"/>
<rect x="548" y="633" width="3" height="24" fill="#00ff00"/>
<rect x="564" y="633" width="3" height="20" fill="#00ff00"/>
<rect x="580" y="633" width="3" height="18" fill="#00ff00"/>
<rect x="596" y="633" width="3" height="15" fill="#00ff00"/>
<rect x="612" y="633" width="3" height="12" fill="#00ff00"/>
<rect x="628" y="633" width="3" height="16" fill="#00ff00"/>
<rect x="644" y="633" width="3" height="15" fill="#00ff00"/>
<rect x="660" y="633" width="3" height="19" fill="#00ff00"/>
<rect x="676" y="633" width="3" height="21" fill="#00ff00"/>
<rect x="692" y="633" width="3" height="24" fill="#00ff00"/>
<rect x="708" y="633" width="3" height="26" fill="#00ff00"/>
<rect x="724" y="633" width="3" height="28" fill="#00ff00"/>
<rect x="740" y="633" width="3" height="28" fill="#00ff00"/>
<rect x="756" y="633" width="3" height="34" fill="#00ff00"/>
<rect x="772" y="633" width="3" height="39" fill="#00ff00"/>
<rect x="788" y="633" width="3" height="40" fill="#00ff00"/>
<rect x="804" y="633" width="3" height="40" fill="#00ff00"/>
<rect x="820" y="633" width="3" height="44" fill="#00ff00"/>
<rect x="836" y="633" width="3" height="56" fill="#00ff00"/>
<rect x="852" y="633" width="3" height="61" fill="#00ff00"/>
<rect x="868" y="633" width="3" height="65" fill="#00ff00"/>
<rect x="884" y="633" width="3" height="68" fill="#00ff00"/>
<rect x="900" y="633" width="3" height="69" fill="#00ff00"/>
<rect x="916" y="633" width="3" height="70" fill="#00ff00"/>
<rect x="932" y="633" width="3" height="70" fill="#00ff00"/>
<rect x="948" y="633" width="3" height="67" fill="#00ff00"/>
<rect x="964" y="633" width="3" height="65" fill="#00ff00"/>
<rect x="980" y="633" width="3" height="59" fill="#00ff00"/>
<rect x="996" y="633" width="3" height="54" fill="#00ff00"/>
<rect x="1012" y="633" width="3" height="51" fill="#00ff00"/>
<rect x="1028" y="633" width="3" height="53" fill="#00ff00"/>
<rect x="1044" y="633" width="3" height="56" fill="#00ff00"/>
<rect x="1060" y="633" width="3" height="58" fill="#00ff00"/>
<rect x="1076" y="633" width="3" height="58" fill="#00ff00"/>
<rect x="1092" y="633" width="3" height="60" fill="#00ff00"/>
<rect x="1108" y="633" width="3" height="59" fill="#00ff00"/>
<rect x="1124" y="633" width="3" height="57" fill="#00ff00"/>
<rect x="1140" y="633" width="3" height="51" fill="#00ff00"/>
<rect x="1156" y="633" width="3" height="46" fill="#00ff00"/>
<rect x="1172" y="633" width="3" height="43" fill="#00ff00"/>
<rect x="1188" y="633" width="3" height="41" fill="#00ff00"/>
<rect x="1204" y="633" width="3" height="34" fill="#00ff00"/>
<rect x="1220" y="633" width="3" height="30" fill="#00ff00"/>
<rect x="1236" y="633" width="3" height="23" fill="#00ff00"/>
<rect x="1252" y="633" width="3" height="18" fill="#00ff00"/>
<polyline points="5.5,619 21.5,618.5 37.5,618 53.5,617.7 69.5,617.3 85.5,617 101.5,616.7 117.5,616.4 133.5,616 149.5,615.7 165.5,615.4 181.5,614.8 197.5,614.2 213.5,613.3 229.5,612.9 245.5,612.9 261.5,614.2 277.5,614.7 293.5,617.2 309.5,619.2 325.5,621.8 341.5,624.8 357.5,628.6 373.5,633.2 389.5,637 405.5,640.3 421.5,643.3 437.5,645.1 453.5,647.7 469.5,648.4 485.5,650.4 501.5,651.5 517.5,652.2 533.5,653.5 549.5,653.7 565.5,653.7 581.5,653.7 597.5,653.7 613.5,653.7 629.5,652.5 645.5,652.2 661.5,651 677.5,650.2 693.5,650.4 709.5,651.2 725.5,652.2 741.5,652.7 757.5,655.3 773.5,658.6 789.5,661.9 805.5,663.6 821.5,666.2 837.5,669.5 853.5,673 869.5,677.6 885.5,682.7 901.5,686.5 917.5,689.5 933.5,692.3 949.5,695.4 965.5,697.7 981.5,697.7 997.5,697.7 1013.5,695.9 1029.5,694.1 1045.5,692.3 1061.5,691 1077.5,690.3 1093.5,689 1109.5,688.3 1125.5,687.8 1141.5,687.8 1157.5,687 1173.5,685.7 1189.5,684.5 1205.5,682.7 1221.5,679.4 1237.5,675.6 1253.5,670.5" fill="none" stroke="#ff0000" stroke-width="2" stroke-linejoin="round"/>
</g>
<g clip-path="url(#cr)">
<line x1="6" y1="729.5" x2="1612" y2="729.5" stroke="#000" stroke-width="1" stroke-dasharray="3 3"/>
<line x1="6" y1="757.5" x2="1612" y2="757.5" stroke="#000" stroke-width="1" stroke-dasharray="3 3"/>
<line x1="6" y1="790.5" x2="1612" y2="790.5" stroke="#000" stroke-width="1" stroke-dasharray="3 3"/>
<polyline points="5.5,746.8 21.5,746.6 37.5,745 53.5,751.1 69.5,741 85.5,738.5 101.5,738 117.5,748.6 133.5,748.6 149.5,754.2 165.5,746.6 181.5,743 197.5,742.5 213.5,742.5 229.5,747.3 245.5,749.9 261.5,765.9 277.5,768.4 293.5,769.7 309.5,765.9 325.5,767.1 341.5,767.1 357.5,770.7 373.5,770.7 389.5,769.7 405.5,768.9 421.5,768.9 437.5,766.4 453.5,764.9 469.5,773 485.5,773 501.5,775 517.5,775 533.5,775 549.5,761.8 565.5,759.5 581.5,758.8 597.5,756.2 613.5,754.7 629.5,772 645.5,761.8 661.5,767.9 677.5,766.9 693.5,768.9 709.5,768.9 725.5,769.7 741.5,768.9 757.5,776.5 773.5,776.5 789.5,770.9 805.5,770.9 821.5,776 837.5,783.6 853.5,777 869.5,777 885.5,777.8 901.5,777.8 917.5,777.8 933.5,777.8 949.5,774.5 965.5,772.7 981.5,767.6 997.5,767.4 1013.5,768.9 1029.5,776.5 1045.5,777 1061.5,777 1077.5,777 1093.5,781.1 1109.5,773.6 1125.5,770.9 1141.5,763 1157.5,763 1173.5,766.1 1189.5,766.1 1205.5,758 1221.5,758 1237.5,754.4 1253.5,753.9" fill="none" stroke="#1e90ff" stroke-width="2" stroke-linejoin="round"/>
</g>
<rect x="4" y="26" width="1609" height="1" fill="#000000"/><rect x="4" y="603" width="1609" height="1" fill="#000000"/><rect x="4" y="26" width="1" height="578" fill="#000000"/><rect x="1612" y="26" width="1" height="578" fill="#000000"/>
<rect x="4" y="605" width="1609" height="1" fill="#000000"/><rect x="4" y="707" width="1609" height="1" fill="#000000"/><rect x="4" y="605" width="1" height="103" fill="#000000"/><rect x="1612" y="605" width="1" height="103" fill="#000000"/>
<rect x="4" y="709" width="1609" height="1" fill="#000000"/><rect x="4" y="804" width="1609" height="1" fill="#000000"/><rect x="4" y="709" width="1" height="96" fill="#000000"/><rect x="1612" y="709" width="1" height="96" fill="#000000"/>
<rect x="4" y="364" width="6" height="6" fill="#ff0000"/>
<rect x="6" y="366" width="2" height="2" fill="#fff"/>
<rect x="1606" y="364" width="6" height="6" fill="#ff0000"/>
<rect x="1608" y="366" width="2" height="2" fill="#fff"/>
<rect x="4" y="393" width="6" height="6" fill="#ff0000"/>
<rect x="6" y="395" width="2" height="2" fill="#fff"/>
<rect x="1606" y="393" width="6" height="6" fill="#ff0000"/>
<rect x="1608" y="395" width="2" height="2" fill="#fff"/>
<rect x="4" y="437" width="6" height="6" fill="#ff8c00"/>
<rect x="6" y="439" width="2" height="2" fill="#fff"/>
<rect x="1606" y="437" width="6" height="6" fill="#ff8c00"/>
<rect x="1608" y="439" width="2" height="2" fill="#fff"/>
<rect x="4" y="472" width="6" height="6" fill="#0000ff"/>
<rect x="6" y="474" width="2" height="2" fill="#fff"/>
<rect x="1606" y="472" width="6" height="6" fill="#0000ff"/>
<rect x="1608" y="474" width="2" height="2" fill="#fff"/>
<rect x="4" y="505" width="6" height="6" fill="#0000ff"/>
<rect x="6" y="507" width="2" height="2" fill="#fff"/>
<rect x="1606" y="505" width="6" height="6" fill="#0000ff"/>
<rect x="1608" y="507" width="2" height="2" fill="#fff"/>
<g shape-rendering="geometricPrecision" text-rendering="geometricPrecision" fill="#000" stroke="#000" stroke-width="0.3">
<polygon points="8,33 15,33 11.5,37" fill="#000" stroke="none" shape-rendering="crispEdges"/>
<text x="20.5" y="37.7" xml:space="preserve" style="white-space:pre" textLength="169.2" lengthAdjust="spacing">UKOil-,H4  75.244 75.335 75.085 75.175</text>
<text x="9.5" y="617.6" textLength="133.2" lengthAdjust="spacing">MACD(12,26,9) -0.5570 -1.1870</text>
<text x="8.9" y="721.6" textLength="67.6" lengthAdjust="spacing">RSI(14) 52.9246</text>
<rect x="1613" y="39" width="2" height="1" fill="#000000" stroke="none" shape-rendering="crispEdges"/>
<text x="1617.8" y="42.8">87.200</text>
<rect x="1613" y="72" width="2" height="1" fill="#000000" stroke="none" shape-rendering="crispEdges"/>
<text x="1617.8" y="75.8">86.180</text>
<rect x="1613" y="105" width="2" height="1" fill="#000000" stroke="none" shape-rendering="crispEdges"/>
<text x="1617.8" y="108.8">85.130</text>
<rect x="1613" y="138" width="2" height="1" fill="#000000" stroke="none" shape-rendering="crispEdges"/>
<text x="1617.8" y="141.8">84.110</text>
<rect x="1613" y="171" width="2" height="1" fill="#000000" stroke="none" shape-rendering="crispEdges"/>
<text x="1617.8" y="174.8">83.090</text>
<rect x="1613" y="204" width="2" height="1" fill="#000000" stroke="none" shape-rendering="crispEdges"/>
<text x="1617.8" y="207.8">82.070</text>
<rect x="1613" y="237" width="2" height="1" fill="#000000" stroke="none" shape-rendering="crispEdges"/>
<text x="1617.8" y="240.8">81.050</text>
<rect x="1613" y="270" width="2" height="1" fill="#000000" stroke="none" shape-rendering="crispEdges"/>
<text x="1617.8" y="273.8">80.000</text>
<rect x="1613" y="303" width="2" height="1" fill="#000000" stroke="none" shape-rendering="crispEdges"/>
<text x="1617.8" y="306.8">78.980</text>
<rect x="1613" y="336" width="2" height="1" fill="#000000" stroke="none" shape-rendering="crispEdges"/>
<text x="1617.8" y="339.8">77.960</text>
<rect x="1613" y="369" width="2" height="1" fill="#000000" stroke="none" shape-rendering="crispEdges"/>
<text x="1617.8" y="372.8">76.940</text>
<rect x="1613" y="402" width="2" height="1" fill="#000000" stroke="none" shape-rendering="crispEdges"/>
<text x="1617.8" y="405.8">75.920</text>
<rect x="1613" y="435" width="2" height="1" fill="#000000" stroke="none" shape-rendering="crispEdges"/>
<text x="1617.8" y="438.8">74.900</text>
<rect x="1613" y="468" width="2" height="1" fill="#000000" stroke="none" shape-rendering="crispEdges"/>
<text x="1617.8" y="471.8">73.850</text>
<rect x="1613" y="501" width="2" height="1" fill="#000000" stroke="none" shape-rendering="crispEdges"/>
<text x="1617.8" y="504.8">72.830</text>
<rect x="1613" y="534" width="2" height="1" fill="#000000" stroke="none" shape-rendering="crispEdges"/>
<text x="1617.8" y="537.8">71.810</text>
<rect x="1613" y="567" width="2" height="1" fill="#000000" stroke="none" shape-rendering="crispEdges"/>
<text x="1617.8" y="570.8">70.790</text>
<rect x="1613" y="600" width="2" height="1" fill="#000000" stroke="none" shape-rendering="crispEdges"/>
<text x="1617.8" y="603.8">69.770</text>
<rect x="1613" y="607" width="1" height="1" fill="#000000" stroke="none" shape-rendering="crispEdges"/>
<text x="1616" y="616">0.8306</text>
<rect x="1613" y="633" width="2" height="1" fill="#000000" stroke="none" shape-rendering="crispEdges"/>
<text x="1616.4" y="637">0.00</text>
<text x="1616" y="704.2">-2.3354</text>
<text x="1616" y="720">100</text>
<text x="1616" y="733">80</text>
<text x="1616" y="761">50</text>
<text x="1616" y="793.6">15</text>
<text x="1616" y="800.4">0</text>
<rect x="1613" y="803" width="1" height="1" fill="#000000" stroke="none" shape-rendering="crispEdges"/>
<rect x="1614" y="361" width="36" height="11" fill="#ff0000" stroke="none" shape-rendering="crispEdges"/>
<text x="1617.8" y="370" fill="#fff" stroke="#fff">77.002</text>
<rect x="1614" y="390" width="36" height="11" fill="#ff0000" stroke="none" shape-rendering="crispEdges"/>
<text x="1617.8" y="399" fill="#fff" stroke="#fff">76.102</text>
<rect x="1614" y="421" width="36" height="11" fill="#000000" stroke="none" shape-rendering="crispEdges"/>
<text x="1617.8" y="430" fill="#fff" stroke="#fff">75.175</text>
<rect x="1614" y="434" width="36" height="11" fill="#ff8c00" stroke="none" shape-rendering="crispEdges"/>
<text x="1617.8" y="443" fill="#fff" stroke="#fff">74.737</text>
<rect x="1614" y="469" width="36" height="11" fill="#0000ff" stroke="none" shape-rendering="crispEdges"/>
<text x="1617.8" y="478" fill="#fff" stroke="#fff">73.651</text>
<rect x="1614" y="502" width="36" height="11" fill="#0000ff" stroke="none" shape-rendering="crispEdges"/>
<text x="1617.8" y="511" fill="#fff" stroke="#fff">72.601</text>
<rect x="5" y="805" width="1" height="3" fill="#000000" stroke="none" shape-rendering="crispEdges"/>
<text x="4.2" y="817">2 Mar 2023</text>
<rect x="69" y="805" width="1" height="3" fill="#000000" stroke="none" shape-rendering="crispEdges"/>
<text x="68.2" y="817">3 Mar 13:00</text>
<rect x="133" y="805" width="1" height="3" fill="#000000" stroke="none" shape-rendering="crispEdges"/>
<text x="132.2" y="817">6 Mar 05:00</text>
<rect x="197" y="805" width="1" height="3" fill="#000000" stroke="none" shape-rendering="crispEdges"/>
<text x="196.2" y="817">6 Mar 21:00</text>
<rect x="261" y="805" width="1" height="3" fill="#000000" stroke="none" shape-rendering="crispEdges"/>
<text x="260.2" y="817">7 Mar 13:00</text>
<rect x="325" y="805" width="1" height="3" fill="#000000" stroke="none" shape-rendering="crispEdges"/>
<text x="324.2" y="817">8 Mar 05:00</text>
<rect x="389" y="805" width="1" height="3" fill="#000000" stroke="none" shape-rendering="crispEdges"/>
<text x="388.2" y="817">8 Mar 21:00</text>
<rect x="453" y="805" width="1" height="3" fill="#000000" stroke="none" shape-rendering="crispEdges"/>
<text x="452.2" y="817">9 Mar 13:00</text>
<rect x="517" y="805" width="1" height="3" fill="#000000" stroke="none" shape-rendering="crispEdges"/>
<text x="516.2" y="817">10 Mar 05:00</text>
<rect x="581" y="805" width="1" height="3" fill="#000000" stroke="none" shape-rendering="crispEdges"/>
<text x="580.2" y="817">10 Mar 21:00</text>
<rect x="645" y="805" width="1" height="3" fill="#000000" stroke="none" shape-rendering="crispEdges"/>
<text x="644.2" y="817">13 Mar 12:00</text>
<rect x="709" y="805" width="1" height="3" fill="#000000" stroke="none" shape-rendering="crispEdges"/>
<text x="708.2" y="817">14 Mar 04:00</text>
<rect x="773" y="805" width="1" height="3" fill="#000000" stroke="none" shape-rendering="crispEdges"/>
<text x="772.2" y="817">14 Mar 20:00</text>
<rect x="837" y="805" width="1" height="3" fill="#000000" stroke="none" shape-rendering="crispEdges"/>
<text x="836.2" y="817">15 Mar 12:00</text>
<rect x="901" y="805" width="1" height="3" fill="#000000" stroke="none" shape-rendering="crispEdges"/>
<text x="900.2" y="817">16 Mar 04:00</text>
<rect x="965" y="805" width="1" height="3" fill="#000000" stroke="none" shape-rendering="crispEdges"/>
<text x="964.2" y="817">16 Mar 20:00</text>
<rect x="1029" y="805" width="1" height="3" fill="#000000" stroke="none" shape-rendering="crispEdges"/>
<text x="1028.2" y="817">17 Mar 12:00</text>
<rect x="1093" y="805" width="1" height="3" fill="#000000" stroke="none" shape-rendering="crispEdges"/>
<text x="1092.2" y="817">20 Mar 04:00</text>
<rect x="1157" y="805" width="1" height="3" fill="#000000" stroke="none" shape-rendering="crispEdges"/>
<text x="1156.2" y="817">20 Mar 20:00</text>
<rect x="1221" y="805" width="1" height="3" fill="#000000" stroke="none" shape-rendering="crispEdges"/>
<text x="1220.2" y="817">21 Mar 12:00</text>
</g>
</svg>
</body>
</html>
